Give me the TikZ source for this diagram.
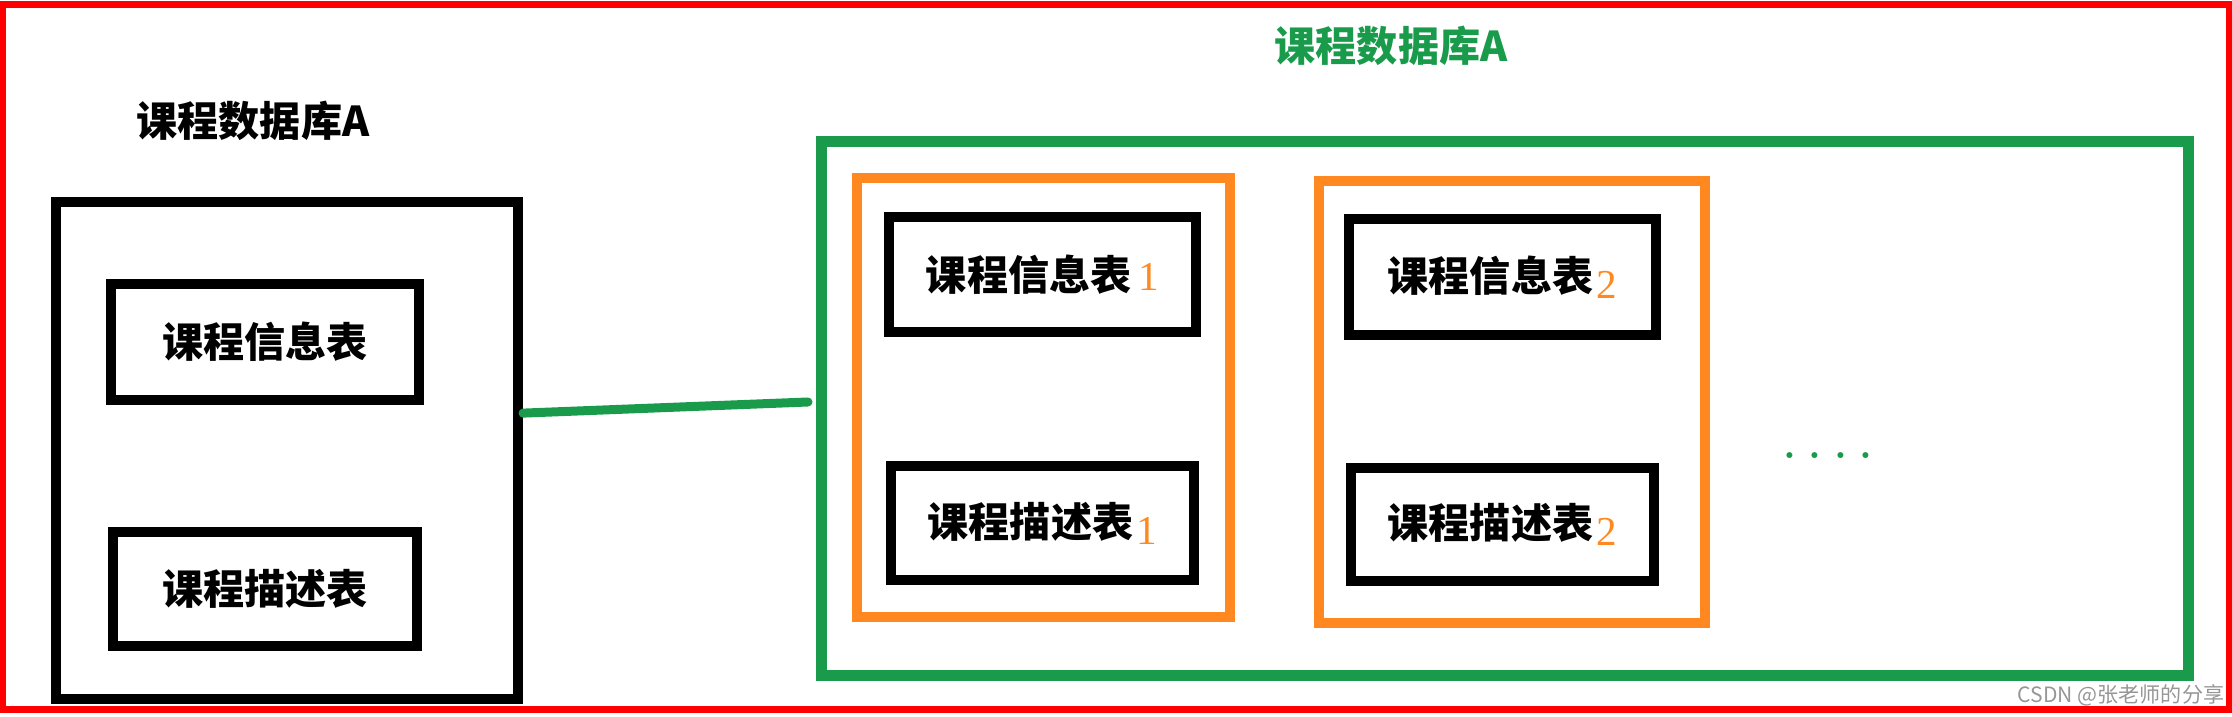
\documentclass[tikz,border=0pt]{standalone}
\usepackage{fontspec}
\newfontfamily\cjk{Noto Sans CJK SC}
\newfontfamily\digitfont{Liberation Serif}
\definecolor{dbgreen}{RGB}{25,155,75}
\definecolor{dborange}{RGB}{255,137,32}
\definecolor{markgray}{RGB}{150,150,150}
\newcommand\tabno[1]{\hspace{2pt}{\mdseries\digitfont\color{dborange}#1}}
\newcommand\tablow[1]{\hspace{1pt}\raisebox{-0.07cm}{\mdseries\digitfont\color{dborange}#1}}
\begin{document}
\begin{tikzpicture}[
    tbl/.style={draw, line width=1mm, inner sep=0pt, minimum width=3.05cm, minimum height=1.15cm,
        font=\cjk\bfseries\fontsize{11.7pt}{14pt}\selectfont},
    grp/.style={draw=dborange, line width=1.05mm, inner sep=0pt},
    ttl/.style={inner sep=0pt, font=\cjk\bfseries\fontsize{11.7pt}{14pt}\selectfont}]
    \useasboundingbox (0,0) rectangle (22.32,7.16);
    \draw[red, line width=0.7mm](0.03,0.065) rectangle (22.295,7.115);

\node (db) at (2.87,2.655)[draw, line width=1mm, inner sep=0pt, minimum width=4.62cm, minimum height=4.97cm]{};
\node (dbtitle) at (2.53,5.95)[ttl]{课程数据库A};
\node (info) at (2.65,3.74)[tbl, minimum width=3.08cm, minimum height=1.16cm]{课程信息表\hspace{0.15cm}};
\node (desc) at (2.65,1.27)[tbl, minimum width=3.04cm, minimum height=1.14cm]{课程描述表\hspace{0.25cm}};

\node (shard) at (15.045,3.07)[draw=dbgreen, line width=1.1mm, inner sep=0pt, minimum width=13.67cm, minimum height=5.34cm]{};
\node (shardtitle) at (13.91,6.70)[ttl, text=dbgreen]{课程数据库A};

\node (grpA) at (10.435,3.185)[grp, minimum width=3.73cm, minimum height=4.39cm]{};
\node (grpB) at (15.12,3.14)[grp, minimum width=3.86cm, minimum height=4.42cm]{};
\node (infoA) at (10.425,4.415)[tbl, minimum width=3.07cm]{课程信息表\tabno{1}};
\node (descA) at (10.425,1.93)[tbl, minimum width=3.03cm, minimum height=1.14cm]{课程描述表\tablow{1}};
\node (infoB) at (15.025,4.39)[tbl, minimum width=3.07cm, minimum height=1.16cm]{课程信息表\tablow{2}};
\node (descB) at (15.025,1.915)[tbl, minimum width=3.03cm, minimum height=1.13cm]{课程描述表\tablow{2}};
\node (more) at (18.28,2.60)[inner sep=0pt, text=dbgreen, font=\bfseries\fontsize{11.7pt}{14pt}\selectfont]{.\hspace{3.6pt}.\hspace{3.6pt}.\hspace{3.6pt}.};

\coordinate (linkend) at (8.08,3.14);
\draw[dbgreen, line width=0.9mm, line cap=round](db.9.5)--(linkend);

\node (mark) at (21.21,0.21)[inner sep=0pt, text=markgray, font=\cjk\fontsize{6pt}{7pt}\selectfont]{CSDN @张老师的分享};
\end{tikzpicture}
\end{document}
